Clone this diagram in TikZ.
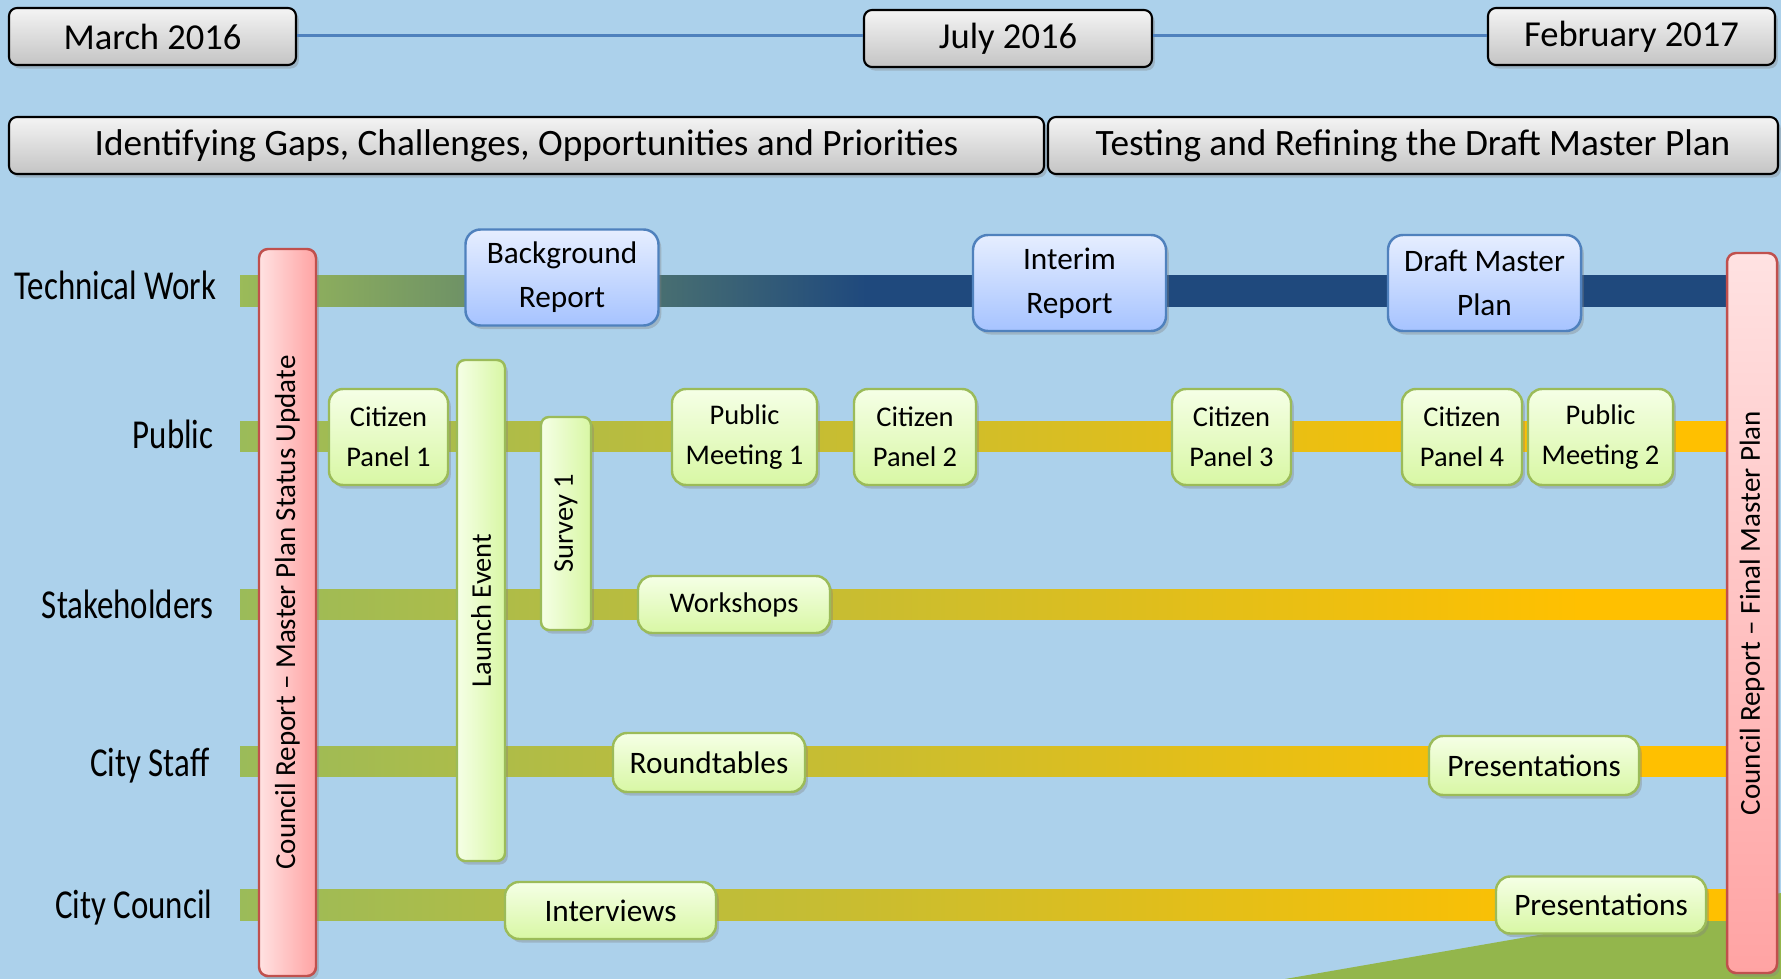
\documentclass[tikz,border=0pt]{standalone}
\usepackage{fontspec}
\setmainfont{Carlito}
\newfontfamily\rowfont[FakeStretch=0.8]{Carlito}
\usepackage{graphicx}
\usetikzlibrary{calc, shadows}

\definecolor{skyblue}{HTML}{ACD1EB}
\definecolor{landgreen}{HTML}{93B64C}
\definecolor{dateline}{HTML}{4F81BD}
\definecolor{greytop}{HTML}{F4F4F4}
\definecolor{greybottom}{HTML}{C4C4C4}
\definecolor{reporttop}{HTML}{E6EEFF}
\definecolor{reportbottom}{HTML}{A6C3FF}
\definecolor{reportedge}{HTML}{4F81BD}
\definecolor{acttop}{HTML}{F5FFE6}
\definecolor{actbottom}{HTML}{D8F7A4}
\definecolor{actedge}{HTML}{9BBB59}
\definecolor{councillight}{HTML}{FFE2E2}
\definecolor{councildark}{HTML}{FFA3A3}
\definecolor{counciledge}{HTML}{C0504D}
\definecolor{bargreen}{HTML}{9BBB59}
\definecolor{bargold}{HTML}{FFC000}
\definecolor{barnavy}{HTML}{1F497D}

\pgfdeclarehorizontalshading{techfade}{100bp}{color(0bp)=(bargreen); color(25bp)=(bargreen);
    color(46bp)=(barnavy); color(100bp)=(barnavy)}
\pgfdeclarehorizontalshading{goldfade}{100bp}{color(0bp)=(bargreen); color(25bp)=(bargreen);
    color(70bp)=(bargold); color(100bp)=(bargold)}

\begin{document}
\begin{tikzpicture}[x=1cm, y=-1cm]
    \tikzstyle{greybox} = [rectangle, rounded corners=.08cm, draw=black, line width=.6pt,
        top color=greytop, bottom color=greybottom, minimum height=.57cm, inner sep=0pt,
        drop shadow={shadow xshift=.8pt, shadow yshift=-1pt, opacity=.35}]
    \tikzstyle{report} = [rectangle, rounded corners=.15cm, draw=reportedge, line width=.7pt,
        top color=reporttop, bottom color=reportbottom, minimum width=1.93cm,
        minimum height=.96cm, inner sep=0pt, align=center,
        font=\fontsize{8.9}{12.5}\selectfont,
        drop shadow={shadow xshift=.8pt, shadow yshift=-1pt, opacity=.35}]
    \tikzstyle{activity} = [rectangle, rounded corners=.14cm, draw=actedge, line width=.7pt,
        top color=acttop, bottom color=actbottom, inner sep=0pt, align=center,
        font=\fontsize{8.1}{11.4}\selectfont,
        drop shadow={shadow xshift=.8pt, shadow yshift=-1pt, opacity=.35}]
    \tikzstyle{bigactivity} = [activity, font=\fontsize{8.9}{11.4}\selectfont]
    \tikzstyle{tallactivity} = [rectangle, rounded corners=.08cm, draw=actedge, line width=.7pt,
        left color=acttop, right color=actbottom, inner sep=0pt,
        font=\fontsize{8.1}{11.4}\selectfont,
        drop shadow={shadow xshift=.8pt, shadow yshift=-1pt, opacity=.35}]
    \tikzstyle{council} = [rectangle, rounded corners=.09cm, draw=counciledge, line width=.7pt,
        inner sep=0pt, font=\fontsize{8.25}{11}\selectfont,
        drop shadow={shadow xshift=.8pt, shadow yshift=-1pt, opacity=.35}]
    \tikzstyle{rowlabel} = [anchor=base east, inner sep=0pt,
        font=\rowfont\fontsize{11.7}{14}\selectfont]

    \useasboundingbox (0, 0) rectangle (17.81, 9.79);
    \fill[skyblue] (0, 0) rectangle (17.81, 9.79);
    \fill[landgreen] (12.85, 9.79) -- (17.81, 8.93) -- (17.81, 9.79) -- cycle;

    % Dates ---------------------------------------------
    \node (march) at (1.525, .365) [greybox, minimum width=2.87cm,
        font=\fontsize{10.4}{12}\selectfont] {March 2016};
    \node (july) at (10.08, .385) [greybox, minimum width=2.88cm,
        font=\fontsize{10.4}{12}\selectfont] {July 2016};
    \node (feb) at (16.315, .365) [greybox, minimum width=2.87cm,
        font=\fontsize{10.4}{12}\selectfont] {February 2017};

    \draw [dateline, line width=1pt] ($(march.east) + (0, -.01)$) -- ($(march.east -| july.west) + (0, -.01)$);
    \draw [dateline, line width=1pt] ($(feb.west -| july.east) + (0, -.01)$) -- ($(feb.west) + (0, -.01)$);

    % Phases
    \node (gaps) at (5.265, 1.455) [greybox, minimum width=10.35cm,
        font=\fontsize{10.6}{12}\selectfont]
        {Identifying Gaps, Challenges, Opportunities and Priorities};
    \node (testing) at (14.13, 1.455) [greybox, minimum width=7.30cm,
        font=\fontsize{10.6}{12}\selectfont]
        {Testing and Refining the Draft Master Plan};
    % ---------------------------------------------------

    % Rows and bars -------------------------------------
    \coordinate (barend) at (17.30, 0);

    \coordinate (techrow) at (2.40, 2.91);
    \coordinate (publicrow) at (2.40, 4.36);
    \coordinate (stakerow) at (2.40, 6.04);
    \coordinate (staffrow) at (2.40, 7.61);
    \coordinate (councilrow) at (2.40, 9.05);

    \node (techlabel) at ($(techrow) + (-.23, .08)$) [rowlabel] {Technical Work};
    \node (publiclabel) at ($(publicrow) + (-.26, .12)$) [rowlabel] {Public};
    \node (stakelabel) at ($(stakerow) + (-.26, .14)$) [rowlabel] {Stakeholders};
    \node (stafflabel) at ($(staffrow) + (-.30, .15)$) [rowlabel] {City Staff};
    \node (councillabel) at ($(councilrow) + (-.27, .13)$) [rowlabel] {City Council};

    \shade[shading=techfade] ($(techrow) + (0, -.155)$) rectangle ($(barend |- techrow) + (0, .155)$);
    \shade[shading=goldfade] ($(publicrow) + (0, -.15)$) rectangle ($(barend |- publicrow) + (0, .15)$);
    \shade[shading=goldfade] ($(stakerow) + (0, -.15)$) rectangle ($(barend |- stakerow) + (0, .15)$);
    \shade[shading=goldfade] ($(staffrow) + (0, -.15)$) rectangle ($(barend |- staffrow) + (0, .15)$);
    \shade[shading=goldfade] ($(councilrow) + (0, -.155)$) rectangle ($(barend |- councilrow) + (0, .155)$);
    % ---------------------------------------------------

    % Council reports
    \node (statusrep) at (2.875, 6.125) [council, left color=councillight, right color=councildark,
        minimum width=.57cm, minimum height=7.27cm]
        {\rotatebox{90}{Council Report -- Master Plan Status Update}};
    \node (finalrep) at (17.52, 6.13) [council, top color=councillight, bottom color=councildark,
        minimum width=.50cm, minimum height=7.20cm]
        {\rotatebox{90}{Council Report -- Final Master Plan}};

    % Technical work
    \node (bgreport) at (5.62, 2.775) [report] {Background\\Report};
    \node (interim) at (10.695, 2.83) [report] {Interim\\Report};
    \node (draft) at (14.845, 2.83) [report] {Draft Master\\Plan};

    % Long events
    \node (launch) at (4.81, 6.105) [tallactivity, minimum width=.48cm, minimum height=5.01cm]
        {\rotatebox{90}{Launch Event}};
    \node (survey) at (5.66, 5.235) [tallactivity, minimum width=.50cm, minimum height=2.13cm]
        {\rotatebox{90}{Survey 1}};

    % Public
    \node (cp1) at ($(publicrow) + (1.485, .01)$) [activity, minimum width=1.19cm, minimum height=.96cm] {Citizen\\Panel 1};
    \node (pm1) at ($(publicrow) + (5.045, .01)$) [activity, minimum width=1.45cm, minimum height=.96cm] {Public\\Meeting 1};
    \node (cp2) at ($(publicrow) + (6.75, .01)$) [activity, minimum width=1.22cm, minimum height=.96cm] {Citizen\\Panel 2};
    \node (cp3) at ($(publicrow) + (9.915, .01)$) [activity, minimum width=1.19cm, minimum height=.96cm] {Citizen\\Panel 3};
    \node (cp4) at ($(publicrow) + (12.22, .01)$) [activity, minimum width=1.20cm, minimum height=.96cm] {Citizen\\Panel 4};
    \node (pm2) at ($(publicrow) + (13.605, .01)$) [activity, minimum width=1.45cm, minimum height=.96cm] {Public\\Meeting 2};

    % Stakeholders, staff, council
    \node (workshops) at ($(stakerow) + (4.94, .005)$) [activity, minimum width=1.92cm, minimum height=.57cm] {Workshops};
    \node (roundtables) at ($(staffrow) + (4.69, .015)$) [bigactivity, minimum width=1.92cm, minimum height=.59cm] {Roundtables};
    \node (staffpres) at ($(staffrow) + (12.94, .045)$) [bigactivity, minimum width=2.10cm, minimum height=.59cm] {Presentations};
    \node (interviews) at ($(councilrow) + (3.705, .055)$) [bigactivity, minimum width=2.11cm, minimum height=.57cm] {Interviews};
    \node (councilpres) at ($(councilrow) + (13.61, 0)$) [bigactivity, minimum width=2.10cm, minimum height=.57cm] {Presentations};
\end{tikzpicture}
\end{document}
